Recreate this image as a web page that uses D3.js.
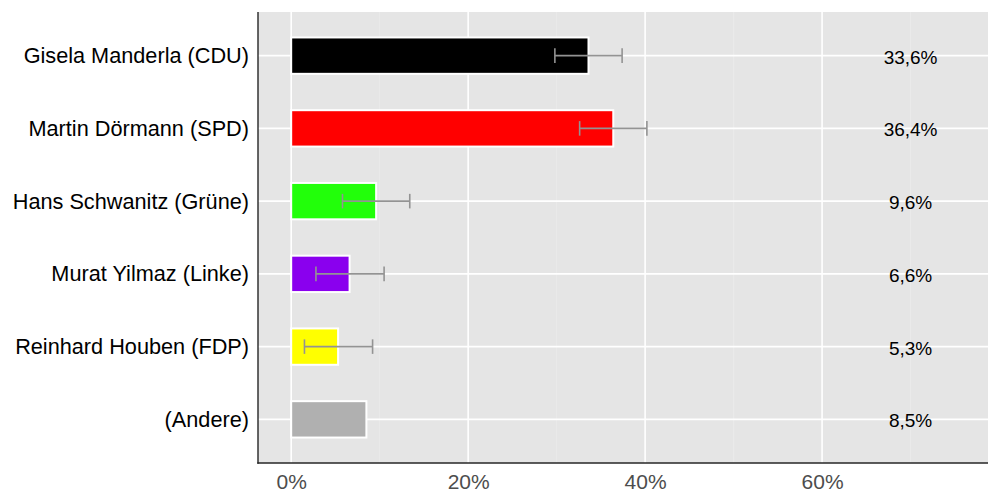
<!DOCTYPE html>
<html>
<head>
<meta charset="utf-8">
<script src="https://cdn.jsdelivr.net/npm/d3@7"></script>
<style>
  html, body { margin: 0; padding: 0; background: #ffffff; }
  svg { display: block; }
  text { font-family: "Liberation Sans", Arial, Helvetica, sans-serif; }
</style>
</head>
<body>
<svg id="chart" width="1000" height="500"></svg>
<script>
const categories = ["Gisela Manderla (CDU)", "Martin Dörmann (SPD)", "Hans Schwanitz (Grüne)", "Murat Yilmaz (Linke)", "Reinhard Houben (FDP)", "(Andere)"];
const values = [33.6, 36.4, 9.6, 6.6, 5.3, 8.5];
const errLow = [29.8, 32.6, 5.8, 2.8, 1.5, null];
const errHigh = [37.4, 40.2, 13.4, 10.5, 9.2, null];
const barColors = ["#000000", "#ff0000", "#22ff0a", "#8a00ee", "#ffff00", "#b0b0b0"];
const valueLabels = ["33,6%", "36,4%", "9,6%", "6,6%", "5,3%", "8,5%"];
const labelPosition = 70;
const majorTicks = [0, 20, 40, 60];
const minorTicks = [10, 30, 50, 70];
const xDomain = [-3.75, 78.75];

const data = categories.map((c, i) => ({
  cat: c, value: values[i], lo: errLow[i], hi: errHigh[i], color: barColors[i], label: valueLabels[i]
}));

const svg = d3.select("#chart");
const L = 258, R = 988, T = 12, B = 463;

const x = d3.scaleLinear().domain(xDomain).range([L, R]);
const y = d3.scalePoint().domain(categories).range([T, B]).padding(0.6);
const step = y.step();
const barH = step * 0.5;
const capH = step * 0.2;

// panel
svg.append("rect").attr("x", L).attr("y", T).attr("width", R - L).attr("height", B - T).attr("fill", "#e5e5e5");

// minor grid
svg.append("g").selectAll("line").data(minorTicks).join("line")
  .attr("x1", d => x(d)).attr("x2", d => x(d)).attr("y1", T).attr("y2", B)
  .attr("stroke", "#ebebeb").attr("stroke-width", 0.8);

// major grid vertical
svg.append("g").selectAll("line").data(majorTicks).join("line")
  .attr("x1", d => x(d)).attr("x2", d => x(d)).attr("y1", T).attr("y2", B)
  .attr("stroke", "#ffffff").attr("stroke-width", 1.6);

// major grid horizontal
svg.append("g").selectAll("line").data(categories).join("line")
  .attr("x1", L).attr("x2", R).attr("y1", d => y(d)).attr("y2", d => y(d))
  .attr("stroke", "#ffffff").attr("stroke-width", 1.6);

// bars
svg.append("g").selectAll("rect").data(data).join("rect")
  .attr("x", x(0)).attr("y", d => y(d.cat) - barH / 2)
  .attr("width", d => x(d.value) - x(0)).attr("height", barH)
  .attr("fill", d => d.color).attr("stroke", "#ffffff").attr("stroke-width", 2);

// error bars
const eb = svg.append("g").attr("stroke", "#939393").attr("stroke-width", 1.6).attr("fill", "none");
const ebData = data.filter(d => d.lo !== null);
eb.selectAll("line.h").data(ebData).join("line").attr("class", "h")
  .attr("x1", d => x(d.lo)).attr("x2", d => x(d.hi)).attr("y1", d => y(d.cat)).attr("y2", d => y(d.cat));
eb.selectAll("line.l").data(ebData).join("line").attr("class", "l")
  .attr("x1", d => x(d.lo)).attr("x2", d => x(d.lo)).attr("y1", d => y(d.cat) - capH / 2).attr("y2", d => y(d.cat) + capH / 2);
eb.selectAll("line.r").data(ebData).join("line").attr("class", "r")
  .attr("x1", d => x(d.hi)).attr("x2", d => x(d.hi)).attr("y1", d => y(d.cat) - capH / 2).attr("y2", d => y(d.cat) + capH / 2);

// value labels
svg.append("g").selectAll("text").data(data).join("text")
  .attr("x", x(labelPosition)).attr("y", d => y(d.cat) + 8)
  .attr("text-anchor", "middle").attr("font-size", 19).attr("fill", "#000000")
  .text(d => d.label);

// axes
const xAxis = d3.axisBottom(x).tickValues(majorTicks).tickFormat(d => d + "%").tickSize(0).tickPadding(11);
const gx = svg.append("g").attr("transform", `translate(0,${B})`).call(xAxis);
gx.select(".domain").remove();
gx.selectAll("text").attr("font-size", 21).attr("fill", "#4d4d4d").attr("font-family", "\"Liberation Sans\", Arial, sans-serif");

const yAxis = d3.axisLeft(y).tickSize(0).tickPadding(9);
const gy = svg.append("g").attr("transform", `translate(${L},0)`).call(yAxis);
gy.select(".domain").remove();
gy.selectAll("text").attr("font-size", 21.7).attr("fill", "#000000").attr("font-family", "\"Liberation Sans\", Arial, sans-serif");

// axis lines
svg.append("line").attr("x1", L).attr("x2", L).attr("y1", T).attr("y2", B + 0.7).attr("stroke", "#262626").attr("stroke-width", 1.4);
svg.append("line").attr("x1", L - 0.7).attr("x2", R).attr("y1", B).attr("y2", B).attr("stroke", "#262626").attr("stroke-width", 1.4);
</script>
</body>
</html>
